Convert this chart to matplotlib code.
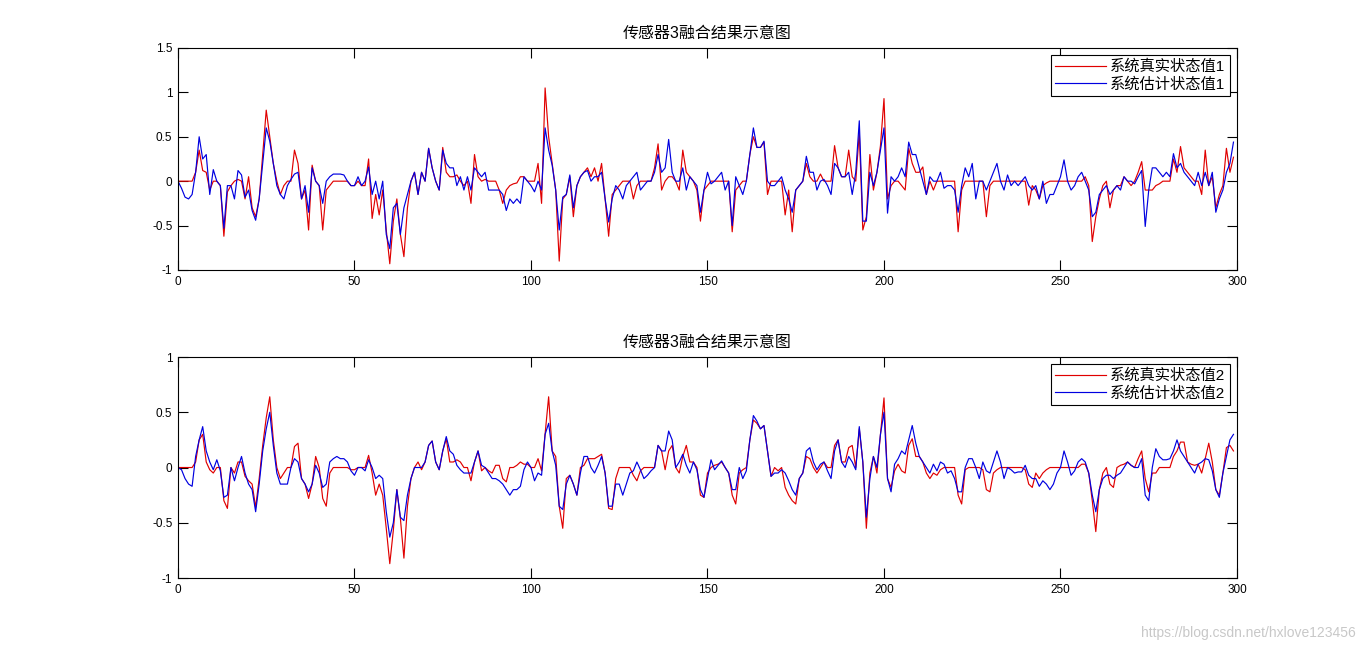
import numpy as np
import matplotlib
matplotlib.use("Agg")
import matplotlib.pyplot as plt

plt.rcParams['font.family'] = ['Liberation Sans', 'Noto Sans CJK SC', 'DejaVu Sans']

title = "传感器3融合结果示意图"
labels1 = ["系统真实状态值1", "系统估计状态值1"]
labels2 = ["系统真实状态值2", "系统估计状态值2"]
x_ticks = [0, 50, 100, 150, 200, 250, 300]
y_ticks1 = [-1, -0.5, 0, 0.5, 1, 1.5]
y_ticks2 = [-1, -0.5, 0, 0.5, 1]
y_ticklabels1 = ["-1", "-0.5", "0", "0.5", "1", "1.5"]
y_ticklabels2 = ["-1", "-0.5", "0", "0.5", "1"]

# state 1: true (red) and estimated (blue)
true1 = [
    0, 0, 0, 0, 0, 0.1, 0.35, 0.12, 0.1, -0.1,
    0.0, 0.0, -0.05, -0.62, -0.12, -0.05, 0.0, 0.02, 0.0, -0.2,
    0.05, -0.3, -0.4, -0.2, 0.3, 0.8, 0.5, 0.2, 0.0, -0.15,
    -0.05, 0.0, 0.0, 0.35, 0.2, -0.2, -0.1, -0.55, 0.18, 0.0,
    -0.05, -0.55, -0.1, -0.05, 0.0, 0.0, 0.0, 0.0, 0.0, -0.05,
    -0.05, 0.0, -0.05, -0.05, 0.25, -0.42, -0.15, -0.38, -0.1, -0.55,
    -0.93, -0.45, -0.2, -0.6, -0.85, -0.3, 0.0, 0.1, -0.15, 0.1,
    0.0, 0.37, 0.15, 0.0, -0.1, 0.38, 0.1, 0.05, 0.05, 0.07,
    0.0, -0.05, 0.0, -0.25, 0.3, 0.05, 0.0, 0.02, 0.0, 0.0,
    0.0, -0.1, -0.25, -0.1, -0.05, -0.03, -0.02, 0.05, 0.05, 0.0,
    0.0, 0.0, 0.2, -0.25, 1.05, 0.5, 0.2, -0.1, -0.9, -0.2,
    -0.15, 0.05, -0.4, -0.05, 0.05, 0.1, 0.15, 0.05, 0.15, 0.0,
    0.2, -0.2, -0.62, -0.15, -0.1, -0.05, 0.0, 0.0, 0.0, -0.2,
    -0.05, 0.0, 0.0, 0.0, 0.0, 0.15, 0.42, -0.1, 0.0, 0.05,
    0.05, 0.0, -0.1, 0.35, 0.1, 0.05, 0.0, -0.1, -0.45, -0.1,
    -0.05, 0.0, 0.0, 0.0, 0.0, 0.0, 0.0, -0.57, -0.1, -0.05,
    0.0, 0.0, 0.3, 0.5, 0.38, 0.38, 0.44, -0.15, 0.0, 0.0,
    0.0, 0.0, -0.38, -0.1, -0.57, -0.1, -0.05, 0.0, 0.2, 0.05,
    0.0, 0.0, 0.08, 0.0, 0.0, 0.0, 0.4, 0.15, 0.05, 0.05,
    0.35, 0.05, 0.0, 0.55, -0.55, -0.4, 0.3, -0.1, 0.1, 0.4,
    0.93, -0.2, -0.05, 0.0, 0.0, -0.05, -0.1, 0.37, 0.2, 0.1,
    0.1, 0.16, -0.15, 0.0, -0.1, 0.0, 0.0, 0.0, 0.0, 0.0,
    0.0, -0.57, -0.1, 0.0, 0.0, 0.0, 0.0, 0.0, 0.0, -0.4,
    -0.05, 0.0, 0.0, 0.0, 0.0, 0.0, 0.0, 0.0, 0.0, 0.0,
    0.0, -0.27, -0.05, -0.1, -0.2, -0.05, -0.02, 0.0, 0.0, 0.0,
    0.0, 0.0, 0.0, 0.0, 0.0, 0.0, 0.0, 0.05, -0.05, -0.68,
    -0.4, -0.2, -0.05, 0.0, -0.3, -0.1, -0.05, -0.05, 0.05, 0.0,
    -0.05, 0.0, 0.1, 0.22, -0.1, -0.1, -0.1, -0.05, -0.03, 0.0,
    0.0, 0.0, 0.25, 0.1, 0.39, 0.15, 0.1, 0.05, 0.0, 0.0,
    -0.15, 0.35, -0.05, 0.05, -0.3, -0.15, -0.05, 0.37, 0.1, 0.27,
]
est1 = [
    0, -0.08, -0.18, -0.2, -0.15, 0.1, 0.5, 0.25, 0.3, -0.15,
    0.13, 0.0, -0.05, -0.53, -0.05, -0.05, -0.2, 0.12, 0.07, -0.18,
    -0.1, -0.33, -0.44, -0.2, 0.2, 0.6, 0.45, 0.2, -0.05, -0.15,
    -0.2, -0.05, 0.02, 0.08, 0.1, -0.2, -0.05, -0.35, 0.15, 0.0,
    -0.05, -0.25, 0.0, 0.05, 0.08, 0.08, 0.08, 0.07, 0.0, -0.05,
    -0.05, 0.05, -0.05, 0.0, 0.16, -0.15, 0.0, -0.2, 0.0, -0.6,
    -0.76, -0.3, -0.25, -0.6, -0.3, -0.15, 0.0, 0.1, -0.15, 0.1,
    0.0, 0.37, 0.15, 0.0, -0.1, 0.35, 0.2, 0.15, 0.15, -0.05,
    0.05, -0.1, 0.05, -0.1, 0.15, 0.1, 0.05, 0.1, -0.1, -0.1,
    -0.1, -0.1, -0.15, -0.33, -0.2, -0.25, -0.2, -0.25, 0.05, 0.0,
    -0.05, -0.12, 0.0, -0.1, 0.6, 0.35, 0.18, -0.1, -0.55, -0.18,
    -0.15, 0.07, -0.3, -0.05, 0.05, 0.1, 0.12, 0.0, 0.05, 0.05,
    0.1, -0.2, -0.46, -0.2, -0.05, -0.1, -0.2, -0.05, 0.0, 0.05,
    0.1, -0.1, -0.05, 0.0, 0.0, 0.1, 0.3, 0.1, 0.15, 0.47,
    0.1, 0.0, 0.0, 0.15, -0.1, 0.05, 0.0, -0.05, -0.35, -0.1,
    0.1, -0.03, 0.0, 0.05, 0.1, -0.1, 0.0, -0.5, 0.05, -0.05,
    -0.15, 0.0, 0.3, 0.6, 0.38, 0.38, 0.45, 0.0, -0.05, -0.05,
    0.0, 0.05, -0.1, -0.2, -0.35, -0.1, -0.05, 0.0, 0.28, 0.1,
    0.1, -0.1, 0.0, 0.02, -0.05, -0.15, 0.2, 0.15, 0.05, 0.05,
    0.1, -0.15, 0.1, 0.68, -0.45, -0.45, 0.1, -0.05, 0.1, 0.35,
    0.6, -0.36, 0.05, 0.0, 0.05, 0.15, 0.05, 0.44, 0.3, 0.3,
    0.15, 0.0, -0.15, 0.05, 0.0, 0.0, 0.1, -0.08, -0.05, -0.05,
    -0.1, -0.35, -0.05, 0.15, 0.05, 0.2, -0.2, 0.0, 0.0, -0.1,
    0.0, 0.1, 0.2, 0.0, -0.1, 0.07, -0.05, 0.0, -0.05, 0.0,
    0.05, -0.05, -0.1, -0.05, -0.2, 0.0, -0.25, -0.15, -0.15, -0.05,
    0.05, 0.24, 0.0, -0.1, -0.05, 0.05, 0.1, 0.0, -0.1, -0.4,
    -0.35, -0.15, -0.1, -0.05, -0.15, -0.1, -0.05, -0.1, 0.05, 0.0,
    0.0, -0.03, 0.05, 0.12, -0.51, -0.1, 0.15, 0.15, 0.1, 0.05,
    0.1, 0.05, 0.31, 0.15, 0.2, 0.1, 0.05, 0.0, -0.05, 0.1,
    -0.05, 0.1, -0.05, 0.1, -0.35, -0.2, -0.1, 0.1, 0.2, 0.44,
]

# state 2: true (red) and estimated (blue)
true2 = [
    0, 0, 0, 0, 0, 0.05, 0.25, 0.3, 0.05, -0.02,
    -0.05, 0.0, 0.0, -0.3, -0.37, 0.0, -0.05, 0.05, 0.05, -0.08,
    -0.12, -0.15, -0.36, -0.1, 0.2, 0.45, 0.64, 0.25, 0.0, -0.1,
    -0.05, 0.0, 0.0, 0.19, 0.22, -0.1, -0.15, -0.28, -0.15, 0.1,
    0.0, -0.28, -0.35, -0.05, 0.0, 0.0, 0.0, 0.0, 0.0, -0.02,
    -0.02, 0.0, 0.0, 0.0, 0.11, -0.05, -0.25, -0.15, -0.25, -0.55,
    -0.87, -0.57, -0.2, -0.46, -0.82, -0.35, -0.1, 0.0, 0.05, -0.02,
    0.05, 0.2, 0.24, 0.05, -0.02, 0.15, 0.26, 0.05, 0.05, 0.07,
    0.05, 0.0, 0.0, -0.12, 0.05, 0.15, -0.03, 0.0, -0.03, -0.05,
    0.02, 0.02, -0.1, -0.13, 0.0, 0.0, 0.02, 0.05, 0.03, 0.03,
    0.0, 0.0, 0.08, -0.03, 0.3, 0.64, 0.15, 0.1, -0.35, -0.55,
    -0.1, -0.07, -0.15, -0.25, 0.0, 0.02, 0.08, 0.08, 0.08, 0.1,
    0.12, -0.05, -0.37, -0.38, -0.1, 0.0, 0.0, 0.0, 0.0, -0.07,
    -0.12, -0.03, 0.0, 0.0, 0.0, 0.0, 0.2, 0.15, -0.02, 0.15,
    0.2, 0.0, -0.05, 0.1, 0.2, 0.05, 0.05, 0.0, -0.25, -0.27,
    -0.05, 0.0, 0.02, 0.03, 0.05, 0.0, -0.05, -0.25, -0.33, -0.05,
    -0.02, 0.0, 0.25, 0.43, 0.4, 0.35, 0.38, 0.15, -0.08, 0.0,
    -0.03, 0.0, -0.18, -0.25, -0.3, -0.33, -0.1, -0.05, 0.1, 0.08,
    0.0, -0.05, 0.0, 0.05, 0.0, 0.0, 0.2, 0.25, 0.05, 0.05,
    0.18, 0.2, 0.0, 0.35, 0.05, -0.55, -0.05, 0.1, -0.05, 0.3,
    0.63, -0.1, -0.18, -0.03, 0.03, -0.03, -0.05, 0.2, 0.26, 0.1,
    0.1, 0.05, -0.05, -0.1, -0.05, -0.07, -0.02, 0.0, 0.0, 0.0,
    0.0, -0.25, -0.33, -0.02, 0.0, 0.0, 0.0, 0.0, -0.02, -0.2,
    -0.22, -0.05, -0.02, 0.0, 0.0, 0.0, 0.0, 0.0, 0.0, 0.0,
    -0.02, -0.15, -0.18, -0.05, -0.1, -0.05, -0.02, 0.0, 0.0, 0.0,
    0.0, 0.0, 0.0, 0.0, 0.0, 0.0, 0.03, 0.03, -0.05, -0.3,
    -0.58, -0.2, -0.05, 0.0, -0.15, -0.18, 0.0, 0.02, 0.03, 0.05,
    0.02, 0.0, 0.08, 0.15, -0.1, -0.22, -0.05, -0.05, 0.0, 0.0,
    0.0, 0.0, 0.1, 0.15, 0.23, 0.23, 0.05, 0.03, 0.02, 0.03,
    -0.05, 0.08, 0.22, 0.05, -0.2, -0.25, -0.05, 0.18, 0.2, 0.15,
]
est2 = [
    0, -0.02, -0.1, -0.15, -0.17, 0.1, 0.25, 0.37, 0.15, 0.05,
    -0.02, 0.07, -0.03, -0.27, -0.25, 0.0, -0.12, 0.0, 0.1, -0.05,
    -0.15, -0.2, -0.4, -0.15, 0.15, 0.35, 0.5, 0.2, -0.05, -0.15,
    -0.15, -0.15, 0.0, 0.08, 0.05, -0.1, -0.15, -0.22, -0.15, 0.02,
    -0.05, -0.18, -0.15, 0.05, 0.08, 0.1, 0.08, 0.08, 0.05, -0.03,
    -0.07, 0.0, 0.0, -0.03, 0.07, 0.0, -0.1, -0.07, -0.1, -0.4,
    -0.63, -0.5, -0.2, -0.45, -0.48, -0.25, -0.1, 0.0, 0.0, 0.0,
    0.05, 0.2, 0.24, 0.05, -0.02, 0.15, 0.28, 0.15, 0.12, 0.02,
    -0.02, -0.05, -0.05, -0.05, 0.05, 0.15, 0.02, 0.0, -0.05, -0.1,
    -0.1, -0.12, -0.15, -0.2, -0.25, -0.2, -0.2, -0.17, -0.02, 0.05,
    0.0, -0.12, -0.05, -0.07, 0.3, 0.4, 0.15, 0.02, -0.35, -0.38,
    -0.15, -0.07, -0.15, -0.25, -0.05, 0.1, 0.1, 0.0, -0.05, 0.02,
    0.1, -0.05, -0.35, -0.35, -0.15, -0.15, -0.25, -0.15, -0.05, -0.03,
    0.05, -0.02, -0.1, -0.07, -0.03, 0.0, 0.2, 0.15, 0.15, 0.33,
    0.25, 0.0, 0.05, 0.12, 0.02, -0.05, 0.05, -0.02, -0.2, -0.27,
    -0.1, 0.07, -0.02, 0.02, 0.06, 0.0, -0.05, -0.2, -0.2, 0.0,
    -0.1, -0.03, 0.25, 0.47, 0.42, 0.35, 0.38, 0.15, -0.08, -0.05,
    -0.05, -0.02, -0.05, -0.12, -0.2, -0.25, -0.1, -0.05, 0.15, 0.18,
    0.05, -0.02, 0.03, 0.05, -0.03, -0.1, 0.15, 0.25, 0.05, 0.0,
    0.1, 0.05, -0.02, 0.37, 0.05, -0.45, -0.1, 0.1, 0.0, 0.3,
    0.5, -0.1, -0.22, 0.03, 0.08, 0.15, 0.12, 0.25, 0.38, 0.22,
    0.1, 0.05, 0.0, -0.05, 0.03, -0.03, 0.05, 0.03, -0.05, -0.03,
    -0.1, -0.22, -0.22, 0.0, 0.08, 0.08, 0.0, -0.1, 0.05, -0.03,
    -0.05, 0.05, 0.15, 0.05, -0.1, 0.0, -0.02, -0.05, -0.04, -0.04,
    0.02, -0.07, -0.1, -0.1, -0.17, -0.12, -0.15, -0.2, -0.15, -0.05,
    0.0, 0.15, 0.05, -0.07, -0.03, 0.05, 0.08, 0.05, -0.05, -0.25,
    -0.4, -0.2, -0.1, -0.07, -0.07, -0.1, -0.07, -0.05, 0.0, 0.05,
    0.02, 0.0, 0.0, 0.08, -0.25, -0.3, 0.0, 0.17, 0.1, 0.07,
    0.07, 0.08, 0.15, 0.25, 0.15, 0.1, 0.05, 0.0, -0.05, 0.03,
    0.05, 0.08, 0.07, -0.03, -0.2, -0.27, -0.05, 0.1, 0.25, 0.3,
]

t = np.arange(len(true1))

fig = plt.figure(figsize=(13.67, 6.51), dpi=100)
ax1 = fig.add_axes([0.1302, 0.5853, 0.7747, 0.341])
ax2 = fig.add_axes([0.1302, 0.1121, 0.7747, 0.3395])


def style_axis(ax, yticks, yticklabels, ylim, labels):
    ax.set_xlim(0, 300)
    ax.set_ylim(*ylim)
    ax.set_xticks(x_ticks)
    ax.set_yticks(yticks)
    ax.set_yticklabels(yticklabels)
    ax.tick_params(direction="in", length=7, width=0.8, top=True, right=True,
                   labelsize=8.5, pad=4)
    for sp in ax.spines.values():
        sp.set_linewidth(0.8)
    ax.set_title(title, fontsize=11.5, pad=7)
    leg = ax.legend(labels, loc="upper right", fontsize=11, fancybox=False,
                    edgecolor="black", framealpha=1, handlelength=3.3,
                    borderaxespad=0.45, borderpad=0.3, labelspacing=0.2,
                    handletextpad=0.3)
    leg.get_frame().set_linewidth(0.8)


ax1.plot(t, true1, color="#e00000", lw=0.85)
ax1.plot(t, est1, color="#0000e0", lw=0.85)
style_axis(ax1, y_ticks1, y_ticklabels1, (-1, 1.5), labels1)

ax2.plot(t, true2, color="#e00000", lw=0.85)
ax2.plot(t, est2, color="#0000e0", lw=0.85)
style_axis(ax2, y_ticks2, y_ticklabels2, (-1, 1), labels2)

fig.text(0.992, 0.028, "https://blog.csdn.net/hxlove123456", ha="right", va="center",
         fontsize=10, color="#c8c8c8")

fig.savefig("out.png", dpi=100)
